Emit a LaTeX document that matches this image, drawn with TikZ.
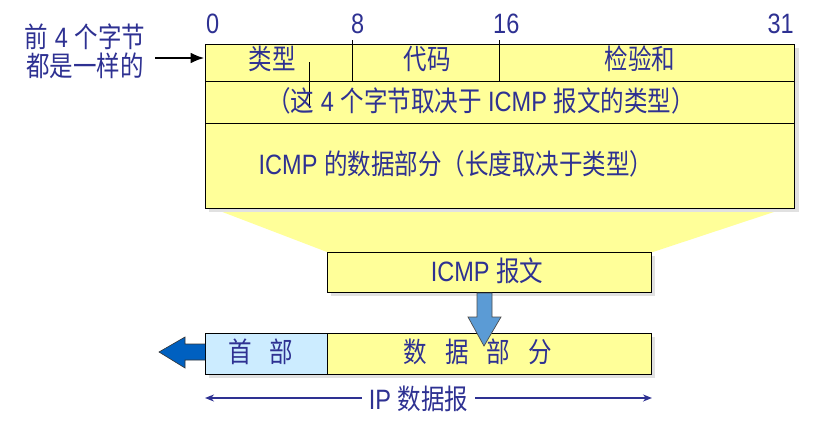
\documentclass[tikz,border=0pt]{standalone}
\usepackage{fontspec}
\setmainfont{Liberation Sans}[FakeStretch=0.84]
\newfontfamily\cjk{Noto Sans CJK SC}[FakeStretch=0.84]
\usetikzlibrary{arrows.meta}
\definecolor{txtblue}{RGB}{46,49,146}
\definecolor{boxyellow}{RGB}{255,255,153}
\definecolor{hdrblue}{RGB}{204,236,255}
\definecolor{arrblue}{RGB}{0,96,192}
\definecolor{downblue}{RGB}{91,155,213}
\definecolor{shadowgray}{RGB}{225,225,225}
\newcommand{\myg}{\hspace{18pt}}
\tikzset{
  cell/.style={draw=black, line width=1pt, fill=boxyellow, inner sep=0pt, minimum width=#1},
  lbl/.style={text=txtblue, inner sep=0pt, font=\fontsize{28}{32}\selectfont},
}
\begin{document}
\begin{tikzpicture}[x=1pt,y=-1pt]
\useasboundingbox (0,0) rectangle (814,431);
% funnel
\fill[boxyellow] (212,208) -- (786,208) -- (653,252) -- (327,252) -- cycle;
% shadows
\fill[shadowgray] (209,48) rectangle (799,212);
\fill[shadowgray] (331,256) rectangle (655,296);
\fill[shadowgray] (209,337) rectangle (655,378);
% main ICMP header cells
\node[cell=147pt, minimum height=37pt] (typ) at (278.5,62.5) {};
\node[cell=147pt, minimum height=37pt] (code) at (425.5,62.5) {};
\node[cell=295pt, minimum height=37pt] (chk) at (646.5,62.5) {};
\node[cell=589pt, minimum height=42pt] (row2) at (499.5,102) {};
\node[cell=589pt, minimum height=85pt] (row3) at (499.5,165.5) {};
% tick marks above column boundaries
\draw[line width=1pt] (typ.north east) -- ++(0,-4);
\draw[line width=1pt] (code.north east) -- ++(0,-4);
% stray vertical line
\draw[line width=1pt] (309,62) -- (309,108);
% bit numbers
\node[lbl, anchor=base west] (n0) at (206,34) {0};
\node[lbl, anchor=base west] (n8) at (351,34) {8};
\node[lbl, anchor=base west] (n16) at (493,34) {16};
\node[lbl, anchor=base east] (n31) at (794,34) {31};
% cell texts
\node[lbl] (ttyp) at (272,59) {\cjk 类型};
\node[lbl] (tcode) at (427,59) {\cjk 代码};
\node[lbl] (tchk) at (640,59) {\cjk 检验和};
\node[lbl] (trow2) at (481,101) {{\cjk （这} 4 {\cjk 个字节取决于} ICMP {\cjk 报文的类型）}};
\node[lbl] (trow3) at (456,164) {ICMP {\cjk 的数据部分（长度取决于类型）}};
% left note
\node[lbl, align=center, font=\fontsize{28}{29}\selectfont] (note) at (85,51) {{\cjk 前} 4 {\cjk 个字节}\\{\cjk 都是一样的}};
\coordinate (arrs) at (155,58);
\draw[line width=2.6pt, -{Latex[length=14pt,width=11pt]}] (arrs) -- (arrs -| typ.west);
% ICMP message
\node[cell=324pt, minimum height=40pt] (icmp) at (489,272) {};
\node[lbl] (ticmp) at (487,271) {ICMP {\cjk 报文}};
% IP datagram
\node[cell=122pt, minimum height=41pt, fill=hdrblue] (hdr) at (266,353.5) {};
\node[cell=324pt, minimum height=41pt] (dat) at (489,353.5) {};
\node[lbl] (thdr) at (261,352) {\cjk 首\myg 部};
\node[lbl] (tdat) at (478,352) {\cjk 数\myg 据\myg 部\myg 分};
% down arrow
\filldraw[fill=downblue, draw=black!70, line width=0.7pt]
  (477,293) -- (492,293) -- (492,317) -- (501,317) -- (484,346) -- (468,317) -- (477,317) -- cycle;
% left arrow
\filldraw[fill=arrblue, draw=black!80, line width=0.6pt]
  (205,344) -- (185,344) -- (185,337) -- (159,352) -- (185,368) -- (185,360) -- (205,360);
% IP datagram span
\node[lbl, inner xsep=7pt] (tip) at (418.5,399) {IP {\cjk 数据报}};
\coordinate (ipl) at (205,398);
\coordinate (ipr) at (652,398);
\draw[draw=txtblue, line width=2.6pt, -{Stealth[length=9pt,width=7pt]}] (tip.west |- ipl) -- (ipl);
\draw[draw=txtblue, line width=2.6pt, -{Stealth[length=9pt,width=7pt]}] (tip.east |- ipr) -- (ipr);
\end{tikzpicture}
\end{document}
